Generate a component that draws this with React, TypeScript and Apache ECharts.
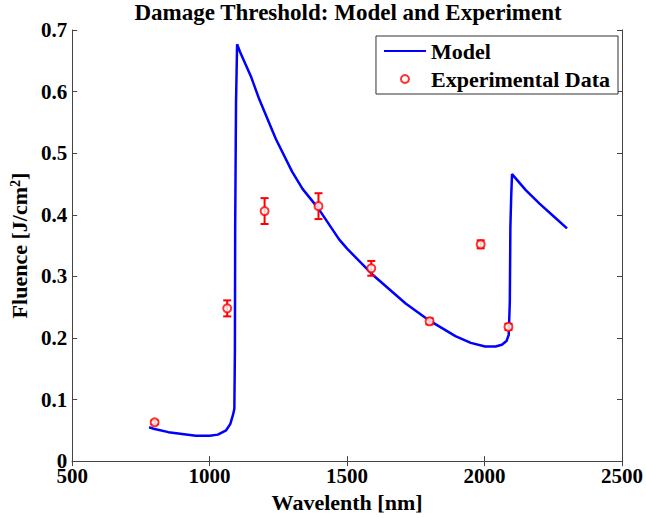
import React, { useEffect, useRef } from "react";
import * as echarts from "echarts";

const modelWavelength = [
  780, 800, 850, 900, 950, 1000, 1030, 1060, 1075, 1085, 1090, 1092, 1093, 1096, 1100,
  1110, 1150, 1181, 1241, 1300, 1338, 1396, 1471, 1500, 1592, 1713, 1800, 1894, 1950,
  2002, 2040, 2063, 2080, 2088, 2092, 2094, 2097, 2100, 2150, 2200, 2250, 2300,
];
const modelFluence = [
  0.055, 0.052, 0.047, 0.044, 0.041, 0.041, 0.043, 0.05, 0.06, 0.075, 0.085, 0.18, 0.38, 0.58, 0.677,
  0.665, 0.625, 0.587, 0.523, 0.47, 0.442, 0.41, 0.36, 0.345, 0.303, 0.256, 0.228, 0.203, 0.192,
  0.186, 0.186, 0.189, 0.195, 0.205, 0.26, 0.38, 0.43, 0.466, 0.44, 0.418, 0.398, 0.378,
];

const expWavelength = [800, 1064, 1200, 1396, 1588, 1800, 1986, 2087];
const expFluence = [0.063, 0.248, 0.406, 0.414, 0.313, 0.227, 0.352, 0.218];
const expError = [0.003, 0.013, 0.021, 0.021, 0.012, 0.005, 0.0065, 0.005];

const xTicks = { min: 500, max: 2500, interval: 500 };
const yTicks = { min: 0, max: 0.7, interval: 0.1 };

const FONT = "Liberation Serif";
const AXIS_COLOR = "#444";

export default function App() {
  const ref = useRef<HTMLDivElement>(null);

  useEffect(() => {
    if (!ref.current) return;
    const chart = echarts.init(ref.current, undefined, { renderer: "svg" });

    const modelData = modelWavelength.map((x, i) => [x, modelFluence[i]]);
    const expData = expWavelength.map((x, i) => [x, expFluence[i]]);
    const errData = expWavelength.map((x, i) => [x, expFluence[i], expError[i]]);

    const baseAxisLabel = {
      fontFamily: FONT,
      fontWeight: "bold" as const,
      fontSize: 21,
      color: "#000",
    };

    chart.setOption({
      animation: false,
      backgroundColor: "#fff",
      textStyle: { fontFamily: FONT },
      title: {
        text: "Damage Threshold: Model and Experiment",
        left: 348,
        top: 0,
        textAlign: "center",
        padding: [1, 0, 0, 0],
        textStyle: {
          fontFamily: FONT,
          fontWeight: "bold",
          fontSize: 23,
          color: "#000",
        },
      },
      legend: {
        orient: "vertical",
        right: 28,
        top: 36,
        padding: [4, 8, 4, 8],
        itemGap: 6,
        itemWidth: 42,
        itemHeight: 8,
        borderColor: "#333",
        borderWidth: 1,
        backgroundColor: "#fff",
        textStyle: {
          fontFamily: FONT,
          fontWeight: "bold",
          fontSize: 22,
          lineHeight: 22,
          color: "#000",
        },
        data: [
          { name: "Model", icon: "path://M0 3 H42 V5 H0 Z" },
          { name: "Experimental Data", icon: "emptyCircle" },
        ],
      },
      grid: { left: 72, right: 22, top: 30, bottom: 54 },
      xAxis: [
        {
          type: "value",
          min: xTicks.min,
          max: xTicks.max,
          interval: xTicks.interval,
          name: "Wavelenth [nm]",
          nameLocation: "middle",
          nameGap: 24,
          nameTextStyle: { ...baseAxisLabel, fontSize: 22 },
          axisLine: { show: true, lineStyle: { color: AXIS_COLOR, width: 1 } },
          axisTick: { show: true, inside: true, length: 5, lineStyle: { color: AXIS_COLOR } },
          axisLabel: { ...baseAxisLabel, margin: 4, formatter: (v: number) => String(v) },
          splitLine: { show: false },
        },
        {
          type: "value",
          position: "top",
          min: xTicks.min,
          max: xTicks.max,
          interval: xTicks.interval,
          axisLine: { show: true, lineStyle: { color: AXIS_COLOR, width: 1 } },
          axisTick: { show: true, inside: true, length: 5, lineStyle: { color: AXIS_COLOR } },
          axisLabel: { show: false },
          splitLine: { show: false },
        },
      ],
      yAxis: [
        {
          type: "value",
          min: yTicks.min,
          max: yTicks.max,
          interval: yTicks.interval,
          name: "Fluence [J/cm{sup|2}]",
          nameLocation: "middle",
          nameRotate: 90,
          nameGap: 42,
          nameTextStyle: {
            ...baseAxisLabel,
            fontSize: 22,
            rich: {
              sup: {
                fontFamily: FONT,
                fontWeight: "bold",
                fontSize: 14,
                verticalAlign: "top",
                padding: [0, 0, 8, 0],
                color: "#000",
              },
            },
          },
          axisLine: { show: true, lineStyle: { color: AXIS_COLOR, width: 1 } },
          axisTick: { show: true, inside: true, length: 5, lineStyle: { color: AXIS_COLOR } },
          axisLabel: {
            ...baseAxisLabel,
            margin: 5,
            formatter: (v: number) => (v === 0 ? "0" : v.toFixed(1)),
          },
          splitLine: { show: false },
        },
        {
          type: "value",
          position: "right",
          min: yTicks.min,
          max: yTicks.max,
          interval: yTicks.interval,
          axisLine: { show: true, lineStyle: { color: AXIS_COLOR, width: 1 } },
          axisTick: { show: true, inside: true, length: 5, lineStyle: { color: AXIS_COLOR } },
          axisLabel: { show: false },
          splitLine: { show: false },
        },
      ],
      series: [
        {
          name: "Model",
          type: "line",
          data: modelData,
          showSymbol: false,
          symbol: "none",
          lineStyle: { color: "#0000ff", width: 2.5 },
          itemStyle: { color: "#0000ff" },
          z: 2,
        },
        {
          name: "Experimental Data",
          type: "scatter",
          data: expData,
          symbol: "emptyCircle",
          symbolSize: 8,
          itemStyle: { color: "#ff0000", borderColor: "#ff0000", borderWidth: 1.5 },
          z: 4,
        },
        {
          name: "errors",
          type: "custom",
          data: errData,
          z: 3,
          renderItem: (params: any, api: any) => {
            const x = api.value(0);
            const y = api.value(1);
            const e = api.value(2);
            const hi = api.coord([x, y + e]);
            const lo = api.coord([x, y - e]);
            const cap = 4;
            const style = { stroke: "#ff0000", lineWidth: 2 };
            return {
              type: "group",
              children: [
                { type: "line", shape: { x1: hi[0], y1: hi[1], x2: lo[0], y2: lo[1] }, style },
                { type: "line", shape: { x1: hi[0] - cap, y1: hi[1], x2: hi[0] + cap, y2: hi[1] }, style },
                { type: "line", shape: { x1: lo[0] - cap, y1: lo[1], x2: lo[0] + cap, y2: lo[1] }, style },
              ],
            };
          },
        },
      ],
    });

    return () => chart.dispose();
  }, []);

  return (
    <div
      ref={ref}
      style={{ position: "fixed", left: 0, top: 0, width: 646, height: 518, background: "#fff" }}
    />
  );
}
